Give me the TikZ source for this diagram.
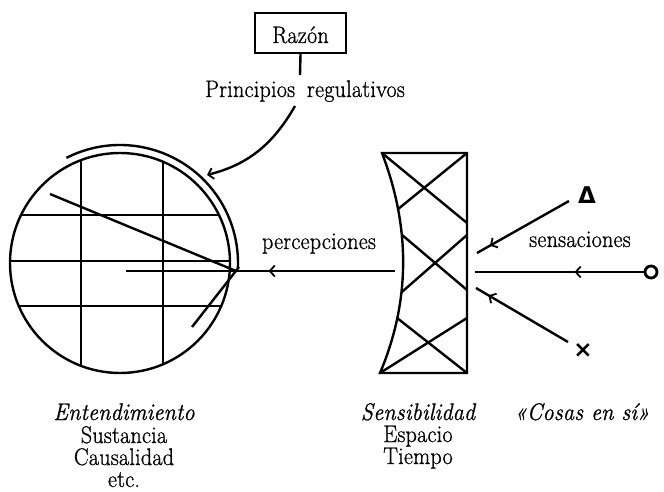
\documentclass[tikz,border=0pt]{standalone}
\usepackage{fontspec}
\setmainfont{Latin Modern Roman}[FakeStretch=0.92, LetterSpace=1, FakeBold=0.9]
\newfontfamily\symfont{DejaVu Sans}
\usetikzlibrary{arrows.meta,decorations.markings,calc}
\tikzset{
  ln/.style={line width=2.4pt},
  lbl/.style={font=\fontsize{24}{24}\selectfont, inner sep=0pt, anchor=base},
  ilbl/.style={lbl, font=\fontsize{24}{24}\selectfont\itshape},
  barb/.tip={Straight Barb[length=5pt,width=11pt,line width=1.8pt]},
  midarrow/.style={postaction={decorate,decoration={markings,mark=at position #1 with {\arrow{barb}}}}},
  sym/.style={font=\symfont\bfseries\fontsize{23}{23}\selectfont, inner sep=0pt}
}
\begin{document}
\begin{tikzpicture}[x=1pt,y=1pt]
\useasboundingbox (0,0) rectangle (664,-492);
% Razon
\node[draw, ln, minimum width=91pt, minimum height=40pt, inner sep=0pt] (razon) at (300.5,-33) {};
\node[lbl] (rz) at (300.5,-43) {Razón};
\node[lbl] (pr) at (305,-97) {Principios\hspace{5pt} regulativos};
\draw[ln] (razon.south) -- (300,-75) coordinate (prtop);
% circle (entendimiento)
\coordinate (c) at (120,-263);
\begin{scope}
  \clip (c) circle[radius=110];
  \draw[ln] (81,-140) -- (81,-390);
  \draw[ln] (163,-140) -- (163,-390);
  \draw[ln] (0,-215) -- (240,-215);
  \draw[ln] (0,-261) -- (240,-261);
  \draw[ln] (0,-306) -- (240,-306);
\end{scope}
\draw[ln] (c) circle[radius=110];
\draw[ln] ($(c)+(117:118)$) arc[start angle=117, end angle=-3, radius=118];
\coordinate (conv) at (236,-271);
\draw[ln] (50,-194) -- (conv);
\draw[ln] (192,-327) -- (239,-267);
% curved arrow
\coordinate (arctip) at (207,-175);
\draw[ln, -{barb}] (295,-106) .. controls (270,-150) and (242,-166) .. (arctip);
% sensibility
\coordinate (sTL) at (382,-153);
\coordinate (sTR) at (467,-153);
\coordinate (sBR) at (467,-373);
\coordinate (sBL) at (380,-373);
\begin{scope}
  \clip (sTL) -- (sTR) -- (sBR) -- (sBL) .. controls (410,-302) and (411,-229) .. (sTL) -- cycle;
  \draw[ln] (sTL) -- (467,-223);
  \draw[ln] (sTR) -- (392,-214);
  \draw[ln] (395,-229) -- (467,-290);
  \draw[ln] (467,-235) -- (395,-298);
  \draw[ln] (467,-318) -- (sBL);
  \draw[ln] (392,-314) -- (sBR);
\end{scope}
\draw[ln, line join=miter] (sTL) -- (sTR) -- (sBR) -- (sBL) .. controls (410,-302) and (411,-229) .. (sTL) -- cycle;
% percepciones
\coordinate (pR) at (395,-271);
\coordinate (pL) at (126,-271);
\draw[ln, midarrow=0.47] (pR) -- (pL);
\node[lbl] (perc) at (319,-249) {percepciones};
% things in themselves
\node[sym] (tri) at (587,-195) {Δ};
\node[draw, circle, line width=2.8pt, minimum size=12pt, inner sep=0pt] (o) at (651,-272) {};
\node[sym] (x) at (583,-351) {×};
\coordinate (s1) at (477,-253);
\coordinate (s2) at (475,-272);
\coordinate (s3) at (476,-288);
\draw[ln, midarrow=0.86] (569,-201) -- (s1);
\draw[ln, midarrow=0.41] (o.west) -- (s2);
\draw[ln, midarrow=0.865] (568,-342) -- (s3);
\node[lbl] (sens) at (580,-247) {sensaciones};
% bottom labels
\node[ilbl] (ent) at (124,-420) {Entendimiento};
\node[lbl] (sus) at (124,-443) {Sustancia};
\node[lbl] (cau) at (124,-465) {Causalidad};
\node[lbl] (etc) at (124,-487) {etc.};
\node[ilbl] (sen) at (418,-420) {Sensibilidad};
\node[lbl] (esp) at (418,-442) {Espacio};
\node[lbl] (tie) at (418,-464) {Tiempo};
\node[ilbl] (cos) at (582,-420) {«Cosas en sí»};
\end{tikzpicture}
\end{document}
